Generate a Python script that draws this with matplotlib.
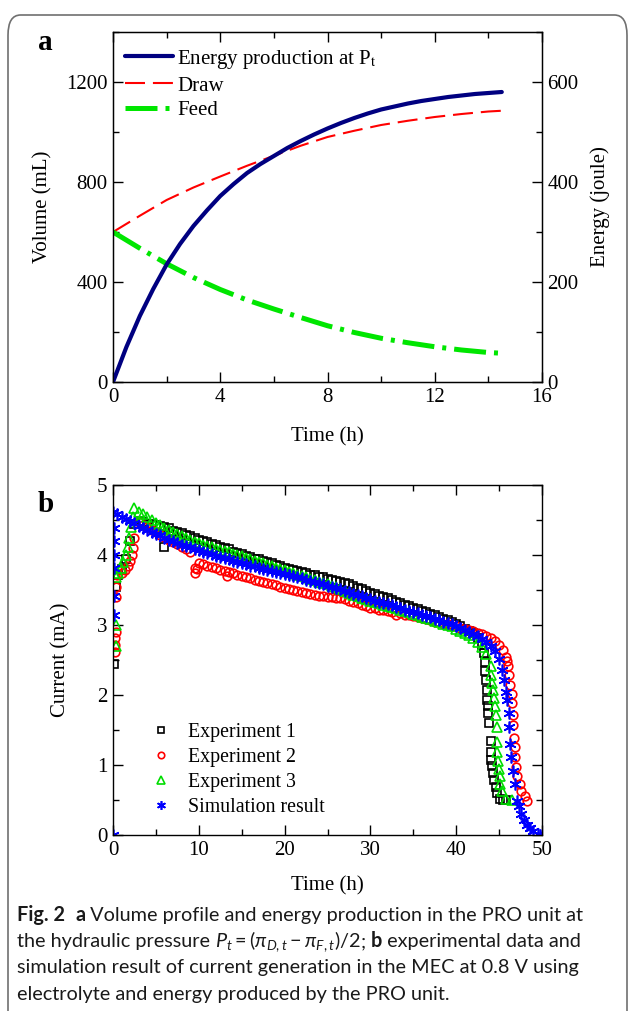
import numpy as np
import matplotlib
matplotlib.use("Agg")
import matplotlib.pyplot as plt
from matplotlib.patches import FancyBboxPatch
from matplotlib.ticker import MultipleLocator

plt.rcParams['font.family'] = ['Liberation Serif', 'DejaVu Serif']
plt.rcParams['mathtext.fontset'] = 'custom'
plt.rcParams['mathtext.rm'] = 'Lato'
plt.rcParams['mathtext.it'] = 'Lato:italic'
plt.rcParams['mathtext.bf'] = 'Lato:bold'

# ---- panel a: volume / energy in the PRO unit
t_a = [0, 0.5, 1, 1.5, 2, 2.5, 3, 3.5, 4, 4.5, 5, 5.5, 6, 6.5, 7, 7.5, 8, 8.5, 9, 9.5,
       10, 10.5, 11, 11.5, 12, 12.5, 13, 13.5, 14, 14.5]
energy = [0, 70, 132, 186, 235, 276, 312, 343, 372, 396, 418, 436, 452, 468, 482, 495, 507,
          518, 528, 537, 545, 551, 557, 562, 566, 570, 573, 576, 578, 580]
t_vol = [0, 1, 2, 3, 4, 5, 6, 7, 8, 9, 10, 11, 12, 13, 14, 14.5]
draw = [600, 665, 728, 778, 822, 865, 905, 945, 980, 1005, 1028, 1045, 1060, 1072, 1082, 1085]
feed = [600, 535, 473, 418, 370, 328, 292, 258, 225, 198, 175, 157, 141, 128, 118, 115]

# ---- panel b: current in the MEC
# experiment 1
t_e1 = [0.1, 0.3, 0.6, 1.0, 1.5, 2.0, 2.5, 6.0] + list(np.arange(3.0, 43.01, 0.5)) + \
       [43.2, 43.3, 43.4, 43.5, 43.55, 43.6, 43.65, 43.7, 43.85, 44.0, 44.05, 44.1, 44.2, 44.3,
        44.4, 44.6, 44.8, 45.1, 45.5, 45.8]
i_e1 = [2.45, 3.55, 3.72, 3.80, 3.95, 4.20, 4.45, 4.12,
        4.48, 4.47, 4.45, 4.44, 4.43, 4.41, 4.40, 4.38, 4.35, 4.33, 4.31, 4.29, 4.27, 4.24,
        4.22, 4.20, 4.18, 4.16, 4.14, 4.12, 4.10, 4.08, 4.05, 4.03, 4.01, 3.99, 3.97, 3.95,
        3.94, 3.92, 3.90, 3.88, 3.86, 3.84, 3.82, 3.80, 3.79, 3.77, 3.76, 3.74, 3.72, 3.71,
        3.69, 3.68, 3.66, 3.64, 3.63, 3.61, 3.60, 3.58, 3.56, 3.53, 3.51, 3.48, 3.46, 3.44,
        3.42, 3.40, 3.38, 3.36, 3.33, 3.31, 3.29, 3.27, 3.25, 3.23, 3.20, 3.18, 3.16, 3.14,
        3.11, 3.09, 3.07, 3.04, 3.02, 2.99, 2.95, 2.92, 2.88, 2.81, 2.72,
        2.60, 2.47, 2.34, 2.22, 2.07, 1.93, 1.84, 1.74, 1.60, 1.35, 1.19, 1.07, 0.98, 0.88,
        0.79, 0.69, 0.60, 0.52, 0.50, 0.50]

# experiment 2
t_e2 = [0.2, 0.2, 0.25, 0.3, 0.3, 0.35, 0.5, 0.8, 1.1, 1.4, 1.7, 2.0, 2.2, 2.3, 2.4] + \
       list(np.arange(3.0, 9.01, 0.5)) + [9.5, 9.6, 9.8] + \
       list(np.arange(10.0, 13.01, 0.5)) + [13.3] + list(np.arange(13.5, 45.51, 0.5)) + \
       [45.8, 45.9, 46.0, 46.2, 46.3, 46.5, 46.5, 46.6, 46.65, 46.7, 46.8, 46.8, 47.0, 47.1,
        47.4, 47.6, 48.0, 48.3]
i_e2 = [2.62, 2.72, 2.82, 2.90, 3.40, 3.55, 3.72, 3.78, 3.75, 3.78, 3.85, 3.92, 4.00, 4.10, 4.25,
        4.47, 4.43, 4.40, 4.36, 4.33, 4.29, 4.26, 4.22, 4.19, 4.16, 4.12, 4.09, 4.05,
        3.82, 3.75, 3.80,
        3.89, 3.87, 3.85, 3.83, 3.81, 3.79, 3.77, 3.70,
        3.76, 3.74, 3.72, 3.70, 3.68, 3.67, 3.65, 3.63, 3.62, 3.60, 3.58, 3.57, 3.55, 3.53,
        3.52, 3.50, 3.49, 3.47, 3.46, 3.45, 3.43, 3.42, 3.41, 3.40, 3.40, 3.39, 3.38, 3.37,
        3.35, 3.33, 3.31, 3.29, 3.27, 3.25, 3.24, 3.22, 3.21, 3.20, 3.18, 3.15, 3.17, 3.15,
        3.14, 3.13, 3.11, 3.10, 3.08, 3.07, 3.05, 3.04, 3.02, 3.01, 2.99, 2.98, 2.96, 2.95,
        2.93, 2.91, 2.89, 2.87, 2.84, 2.81, 2.77, 2.72, 2.65,
        2.55, 2.48, 2.41, 2.29, 2.14, 2.02, 1.88, 1.71, 1.57, 1.38, 1.26, 1.12, 0.97, 0.85,
        0.73, 0.63, 0.56, 0.49]

# experiment 3
t_e3 = [0.3, 0.3, 0.4, 0.6, 0.9, 1.2, 1.5, 1.7, 1.9, 2.1, 2.3] + list(np.arange(2.5, 44.01, 0.5)) + \
       [44.1, 44.2, 44.3, 44.45, 44.55, 44.6, 44.7, 44.75, 44.8, 44.9, 45.0, 45.05, 45.1, 45.3,
        45.8, 46.5]
i_e3 = [2.70, 3.00, 3.68, 3.75, 3.82, 3.90, 4.00, 4.12, 4.25, 4.40, 4.55,
        4.67, 4.62, 4.58, 4.54, 4.50, 4.46, 4.43, 4.39, 4.36, 4.33, 4.30, 4.27, 4.24, 4.22,
        4.19, 4.17, 4.15, 4.13, 4.11, 4.09, 4.07, 4.06, 4.04, 4.02, 4.00, 3.98, 3.96, 3.94,
        3.92, 3.90, 3.88, 3.86, 3.84, 3.82, 3.80, 3.78, 3.76, 3.74, 3.72, 3.70, 3.68, 3.66,
        3.64, 3.62, 3.60, 3.58, 3.56, 3.54, 3.52, 3.49, 3.46, 3.43, 3.41, 3.39, 3.37, 3.35,
        3.33, 3.31, 3.29, 3.27, 3.26, 3.24, 3.22, 3.20, 3.18, 3.16, 3.14, 3.12, 3.10, 3.08,
        3.06, 3.04, 3.02, 3.00, 2.98, 2.95, 2.92, 2.89, 2.86, 2.82, 2.76, 2.68, 2.58, 2.42,
        2.29, 2.17, 2.07, 1.96, 1.84, 1.72, 1.54, 1.33, 1.18, 1.06, 0.94, 0.85, 0.73, 0.63,
        0.51, 0.50]

# simulation
t_sim = [0.05, 0.1, 0.1, 0.15, 0.15, 0.1, 0.1] + list(np.arange(0.0, 45.01, 0.5)) + \
        [45.3, 45.6, 45.8, 45.9, 46.1, 46.2, 46.3, 46.4, 46.6, 46.8, 47.1, 47.3, 47.6, 47.9,
         48.3, 48.6, 49.0, 49.5, 49.8]
i_sim = [0.00, 3.15, 3.42, 3.82, 4.00, 4.20, 4.38,
         4.62, 4.58, 4.55, 4.52, 4.49, 4.46, 4.42, 4.39, 4.36, 4.33, 4.30, 4.28, 4.25, 4.22,
         4.20, 4.17, 4.15, 4.13, 4.11, 4.09, 4.07, 4.05, 4.03, 4.01, 3.99, 3.97, 3.96, 3.94,
         3.92, 3.90, 3.89, 3.87, 3.85, 3.84, 3.82, 3.80, 3.79, 3.77, 3.76, 3.74, 3.73, 3.71,
         3.70, 3.68, 3.67, 3.65, 3.63, 3.62, 3.60, 3.58, 3.56, 3.54, 3.53, 3.51, 3.49, 3.47,
         3.45, 3.43, 3.41, 3.39, 3.37, 3.35, 3.33, 3.31, 3.30, 3.28, 3.26, 3.24, 3.22, 3.20,
         3.19, 3.17, 3.15, 3.13, 3.11, 3.09, 3.07, 3.05, 3.03, 3.01, 2.98, 2.96, 2.93, 2.90,
         2.87, 2.84, 2.80, 2.76, 2.70, 2.63, 2.52,
         2.36, 2.22, 2.05, 1.93, 1.74, 1.55, 1.30, 1.11, 0.92, 0.73, 0.49, 0.42, 0.30, 0.22,
         0.15, 0.10, 0.06, 0.01, 0.00]

# caption, split in runs of (text, weight)
caption = [
    [("Fig. 2", "bold"), ("  ", "normal"), ("a", "bold"),
     (" Volume profile and energy production in the PRO unit at", "normal")],
    [("the hydraulic pressure ", "normal"), (r"$P_t=(\pi_{D,t}-\pi_{F,t})/2$", "normal"),
     ("; ", "normal"), ("b", "bold"), (" experimental data and", "normal")],
    [("simulation result of current generation in the MEC at 0.8 V using", "normal")],
    [("electrolyte and energy produced by the PRO unit.", "normal")],
]

W, H = 629, 1011
fig = plt.figure(figsize=(W / 100, H / 100), dpi=100)

# rounded frame round the figure
frame = FancyBboxPatch((8 / W, -0.05), (619 / W), 1 - 15 / H + 0.05,
                       boxstyle="round,pad=0,rounding_size=0.02",
                       transform=fig.transFigure, fill=False, ec="#707070", lw=1.2)
fig.patches.append(frame)

TICK = 15
LAB = 15


def style_ax(ax):
    ax.tick_params(which="both", direction="in", top=True, labelsize=TICK, width=1, pad=4)
    ax.tick_params(which="major", length=7)
    ax.tick_params(which="minor", length=4)
    for s in ax.spines.values():
        s.set_linewidth(1)


# ---- a
ax1 = fig.add_axes([113 / W, 1 - 382 / H, 429 / W, 350 / H])
ax2 = ax1.twinx()
l1, = ax2.plot(t_a, energy, color="#000080", lw=3.0, solid_capstyle="round",
               label="Energy production at P$_{\\mathrm{t}}$")
l2, = ax1.plot(t_vol, draw, color="#ff0000", lw=1.5, ls=(0, (9.6, 3.8)), label="Draw")
l3, = ax1.plot(t_vol, feed, color="#00e600", lw=3.6, ls=(0, (6.4, 1.6, 0.8, 1.6)), label="Feed")
ax1.set_xlim(0, 16)
ax1.set_ylim(0, 1400)
ax2.set_ylim(0, 700)
ax1.xaxis.set_major_locator(MultipleLocator(4))
ax1.xaxis.set_minor_locator(MultipleLocator(2))
ax1.yaxis.set_major_locator(MultipleLocator(400))
ax1.yaxis.set_minor_locator(MultipleLocator(200))
ax2.yaxis.set_major_locator(MultipleLocator(200))
ax2.yaxis.set_minor_locator(MultipleLocator(100))
style_ax(ax1)
ax1.tick_params(which="both", right=False)
ax2.tick_params(which="both", direction="in", labelsize=TICK, width=1, pad=4)
ax2.tick_params(which="major", length=7)
ax2.tick_params(which="minor", length=4)
ax1.set_xlabel("Time (h)", fontsize=LAB)
ax1.set_ylabel("Volume (mL)", fontsize=LAB)
ax2.set_ylabel("Energy (joule)", fontsize=LAB)
ax1.xaxis.set_label_coords(0.5, -0.128)
ax1.yaxis.set_label_coords(-0.14, 0.5)
ax2.yaxis.set_label_coords(1.112, 0.5)
ax1.legend(handles=[l1, l2, l3], loc="upper left", frameon=False,
           prop={"size": 15, "math_fontfamily": "stix"}, handlelength=2.3,
           handletextpad=0.2, labelspacing=0.25, borderpad=0, borderaxespad=0,
           bbox_to_anchor=(0.028, 0.955))
fig.text(38 / W, 1 - 43 / H, "a", fontsize=21, fontweight="bold", va="center")

# ---- b
axb = fig.add_axes([113 / W, 1 - 835 / H, 429 / W, 350 / H])
axb.plot(t_e1, i_e1, ls="none", marker="s", ms=5.5, mfc="none", mec="black", mew=1.2,
         label="Experiment 1")
axb.plot(t_e2, i_e2, ls="none", marker="o", ms=6.2, mfc="none", mec="#ff0000", mew=1.2,
         label="Experiment 2")
axb.plot(t_e3, i_e3, ls="none", marker="^", ms=6.8, mfc="none", mec="#00dd00", mew=1.2,
         label="Experiment 3")
axb.plot(t_sim, i_sim, ls="none", marker=(6, 2, 0), ms=8.5, mec="#0000ff", mew=1.2,
         label="Simulation result")
axb.set_xlim(0, 50)
axb.set_ylim(0, 5)
axb.xaxis.set_major_locator(MultipleLocator(10))
axb.xaxis.set_minor_locator(MultipleLocator(5))
axb.yaxis.set_major_locator(MultipleLocator(1))
axb.yaxis.set_minor_locator(MultipleLocator(0.5))
style_ax(axb)
axb.tick_params(which="both", right=True)
axb.set_xlabel("Time (h)", fontsize=LAB)
axb.set_ylabel("Current (mA)", fontsize=LAB)
axb.xaxis.set_label_coords(0.5, -0.118)
axb.yaxis.set_label_coords(-0.10, 0.5)
axb.legend(loc="upper left", frameon=False, fontsize=14.3, handlelength=1.0,
           handletextpad=0.9, labelspacing=0.3, borderpad=0, borderaxespad=0,
           markerscale=0.75, bbox_to_anchor=(0.088, 0.32))
fig.text(38 / W, 1 - 505 / H, "b", fontsize=21, fontweight="bold", va="center")

# ---- caption, fitted to the width of the first line
renderer = fig.canvas.get_renderer()


def caption_line(runs, y, size):
    x = 17
    for txt, wt in runs:
        t = fig.text(x / W, y, txt, fontsize=size, fontweight=wt, family="Lato",
                     va="baseline", ha="left", color="#1a1a1a")
        x += t.get_window_extent(renderer).width
    return t, x - 17


probe, w0 = caption_line(caption[0], 2.0, 10)
for t in list(fig.texts):
    if t.get_position()[1] == 2.0:
        t.remove()
size = 10 * 565 / w0
for k, runs in enumerate(caption):
    caption_line(runs, 1 - (921 + 26.2 * k) / H, size)

fig.savefig("out.png", dpi=100)
